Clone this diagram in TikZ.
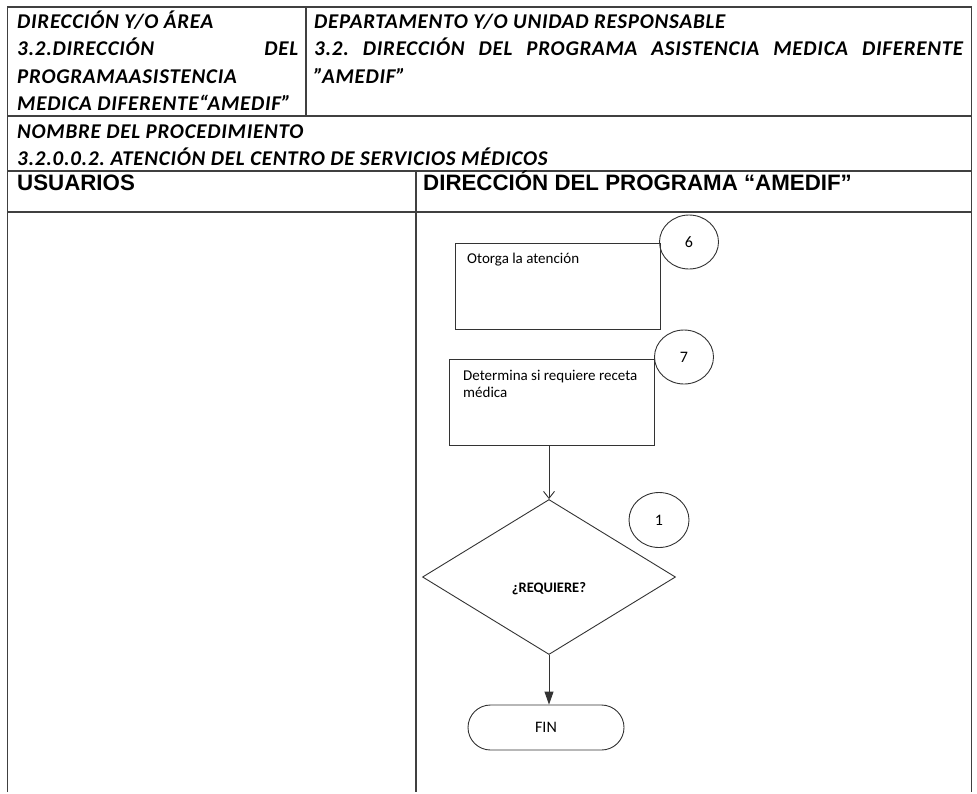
\documentclass[tikz,border=0pt]{standalone}
\usepackage{fontspec}
\setmainfont{Carlito}
\newfontfamily\arialf{Liberation Sans}
\newfontfamily\hdrf{Carlito}[LetterSpace=3.5]
\usetikzlibrary{shapes.geometric,arrows.meta}
\frenchspacing
\tikzset{
  tline/.style={line width=1.4pt, draw=black!75},
  hdr/.style={inner sep=0pt, anchor=base west, font=\hdrf\fontsize{21}{24}\selectfont\bfseries\itshape},
  lane/.style={inner sep=0pt, anchor=base west, font=\arialf\fontsize{22.3}{24}\selectfont\bfseries},
  shp/.style={draw=black!80, line width=0.9pt},
  stepbox/.style={shp, rectangle, minimum width=#1, minimum height=86pt, inner sep=0pt},
  numc/.style={shp, ellipse, minimum width=59pt, minimum height=54pt, inner sep=0pt, font=\fontsize{16}{18}\selectfont},
  btxt/.style={inner sep=0pt, anchor=base west, font=\fontsize{15}{17}\selectfont}
}
\begin{document}
\begin{tikzpicture}[x=1pt,y=-1pt]
\useasboundingbox (0,0) rectangle (977,793);
% table frame
\draw[tline] (7.5,792) -- (7.5,7) -- (971.5,7) -- (971.5,792);
\draw[tline] (7.5,116) -- (971.5,116);
\draw[tline] (7.5,171) -- (971.5,171);
\draw[tline] (7.5,212) -- (971.5,212);
\draw[tline] (306,7) -- (306,116);
\draw[tline] (416,171) -- (416,792);
% header texts
\node[hdr] (h1) at (17,28) {DIRECCIÓN Y/O ÁREA};
\node[hdr] (h2) at (17,55.5) {\makebox[281pt][s]{3.2.DIRECCIÓN DEL}};
\node[hdr] (h3) at (17,83) {PROGRAMAASISTENCIA};
\node[hdr] (h4) at (17,110) {MEDICA DIFERENTE“AMEDIF”};
\node[hdr] (d1) at (314,28) {DEPARTAMENTO Y/O UNIDAD RESPONSABLE};
\node[hdr] (d2) at (314,55.5) {\makebox[649pt][s]{3.2. DIRECCIÓN DEL PROGRAMA ASISTENCIA MEDICA DIFERENTE}};
\node[hdr] (d3) at (314,83) {”AMEDIF”};
\node[hdr] (n1) at (17,138) {NOMBRE DEL PROCEDIMIENTO};
\node[hdr] (n2) at (17,165) {3.2.0.0.2. ATENCIÓN DEL CENTRO DE SERVICIOS MÉDICOS};
\node[lane] (u) at (17,190) {USUARIOS};
\node[lane] (dp) at (423,190) {DIRECCIÓN DEL PROGRAMA “AMEDIF”};
% flowchart
\node[stepbox=205pt] (b1) at (557.5,286) {};
\node[btxt] (t1) at (467,263) {Otorga la atención};
\node[numc] (c6) at (689,242) {6};
\node[stepbox=205pt] (b2) at (551.5,402) {};
\node[btxt] (t2a) at (463,380) {Determina si requiere receta};
\node[btxt] (t2b) at (463,397) {médica};
\node[numc] (c7) at (684,357) {7};
\node[shp, diamond, minimum width=253pt, minimum height=155pt, inner sep=0pt] (q) at (549,577) {};
\node[inner sep=0pt, font=\fontsize{14.5}{16}\selectfont\bfseries] (qt) at (549,589) {¿REQUIERE?};
\node[numc, minimum width=60pt, minimum height=55pt] (c1) at (659,520) {1};
\node[shp, rectangle, rounded corners=22.5pt, minimum width=156pt, minimum height=45pt,
      inner sep=0pt, font=\fontsize{16}{18}\selectfont] (fin) at (546,727.5) {FIN};
\draw[shp, -{Straight Barb[length=7pt,width=11pt]}] (b2.south -| q.north) -- (q.north);
\draw[shp, -{Triangle[length=13pt,width=9pt]}] (q.south) -- (q.south |- fin.north);
\end{tikzpicture}
\end{document}
